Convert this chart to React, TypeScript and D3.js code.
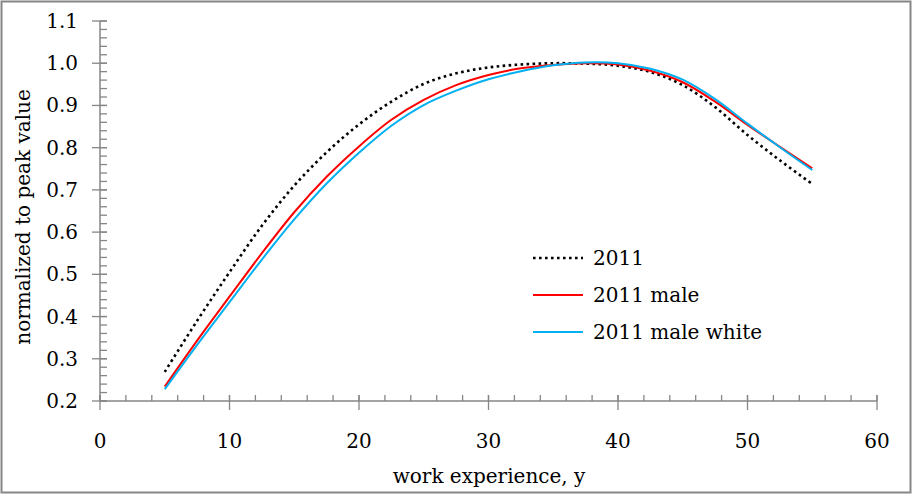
import { useRef, useEffect } from "react";
import * as d3 from "d3";

// work experience (years) at which the curves were read
const experience = [5, 7.5, 10, 12.5, 15, 17.5, 20, 22.5, 25, 27.5, 30, 32.5, 35, 37.5, 40, 42.5, 45, 47.5, 50, 52.5, 55];
const all2011 = [0.269, 0.39, 0.505, 0.615, 0.71, 0.789, 0.855, 0.909, 0.951, 0.976, 0.99, 0.997, 1.0, 0.999, 0.994, 0.979, 0.948, 0.896, 0.83, 0.77, 0.714];
const male2011 = [0.234, 0.343, 0.447, 0.55, 0.647, 0.731, 0.803, 0.866, 0.913, 0.948, 0.972, 0.988, 0.996, 1.0, 0.997, 0.982, 0.955, 0.909, 0.854, 0.802, 0.751];
const maleWhite2011 = [0.228, 0.333, 0.434, 0.535, 0.63, 0.715, 0.788, 0.852, 0.901, 0.935, 0.962, 0.981, 0.995, 1.002, 1.0, 0.987, 0.961, 0.915, 0.857, 0.801, 0.747];

const xTicks = [0, 10, 20, 30, 40, 50, 60];
const yTicks = [0.2, 0.3, 0.4, 0.5, 0.6, 0.7, 0.8, 0.9, 1.0, 1.1];

const series = [
  { label: "2011", values: all2011, color: "#000000", dash: "2.6,3.4", width: 2.6 },
  { label: "2011 male", values: male2011, color: "#ff0000", dash: null, width: 2 },
  { label: "2011 male white", values: maleWhite2011, color: "#00b0f0", dash: null, width: 2 },
];

const W = 913;
const H = 495;
const FONT = "'DejaVu Serif', serif";

export default function App() {
  const ref = useRef<SVGSVGElement>(null);

  useEffect(() => {
    if (!ref.current) return;
    const svg = d3.select(ref.current);
    svg.selectAll("*").remove();

    svg.append("rect").attr("x", 0).attr("y", 0).attr("width", W).attr("height", H).attr("fill", "#fff");
    svg.append("rect").attr("x", 1.5).attr("y", 1.5).attr("width", 909).attr("height", 491)
      .attr("fill", "none").attr("stroke", "#868686").attr("stroke-width", 2);

    const x = d3.scaleLinear().domain([0, 60]).range([100, 877]);
    const y = d3.scaleLinear().domain([0.2, 1.1]).range([401, 21]);
    const axisColor = "#868686";

    const g = svg.append("g");

    // minor ticks
    const xMinor = d3.range(0, 60.01, 2);
    g.selectAll(".xminor").data(xMinor).enter().append("line")
      .attr("x1", d => x(d)).attr("x2", d => x(d)).attr("y1", 395).attr("y2", 401)
      .attr("stroke", axisColor).attr("stroke-width", 1.3);
    const yMinor = d3.range(0.2, 1.1001, 0.02);
    g.selectAll(".yminor").data(yMinor).enter().append("line")
      .attr("x1", 100).attr("x2", 107).attr("y1", d => y(d)).attr("y2", d => y(d))
      .attr("stroke", axisColor).attr("stroke-width", 1.3);

    // major ticks
    g.selectAll(".xmajor").data(xTicks).enter().append("line")
      .attr("x1", d => x(d)).attr("x2", d => x(d)).attr("y1", 395).attr("y2", 410)
      .attr("stroke", axisColor).attr("stroke-width", 1.3);
    g.selectAll(".ymajor").data(yTicks).enter().append("line")
      .attr("x1", 92).attr("x2", 107).attr("y1", d => y(d)).attr("y2", d => y(d))
      .attr("stroke", axisColor).attr("stroke-width", 1.3);

    // axis lines
    g.append("line").attr("x1", 100).attr("x2", 877).attr("y1", 401).attr("y2", 401)
      .attr("stroke", axisColor).attr("stroke-width", 1.5);
    g.append("line").attr("x1", 100).attr("x2", 100).attr("y1", 21).attr("y2", 401)
      .attr("stroke", axisColor).attr("stroke-width", 1.5);

    // tick labels
    g.selectAll(".xlab").data(xTicks).enter().append("text")
      .attr("x", d => x(d)).attr("y", 448).attr("text-anchor", "middle")
      .attr("font-family", FONT).attr("font-size", 20).attr("fill", "#000")
      .text(d => String(d));
    g.selectAll(".ylab").data(yTicks).enter().append("text")
      .attr("x", 78).attr("y", d => y(d) + 7).attr("text-anchor", "end")
      .attr("font-family", FONT).attr("font-size", 20).attr("fill", "#000")
      .text(d => d.toFixed(1));

    // axis titles
    svg.append("text").attr("x", 489).attr("y", 483).attr("text-anchor", "middle")
      .attr("font-family", FONT).attr("font-size", 20).attr("fill", "#000")
      .text("work experience, y");
    svg.append("text").attr("transform", "translate(30,217) rotate(-90)").attr("text-anchor", "middle")
      .attr("font-family", FONT).attr("font-size", 20).attr("fill", "#000")
      .text("normalized to peak value");

    // lines
    series.forEach(s => {
      const line = d3.line<number>()
        .x((_, i) => x(experience[i]))
        .y(d => y(d))
        .curve(d3.curveCatmullRom.alpha(0.5));
      const p = g.append("path").datum(s.values).attr("d", line)
        .attr("fill", "none").attr("stroke", s.color).attr("stroke-width", s.width);
      if (s.dash) p.attr("stroke-dasharray", s.dash);
    });

    // legend
    const leg = svg.append("g").attr("transform", "translate(533,258)");
    series.forEach((s, i) => {
      const row = leg.append("g").attr("transform", `translate(0,${i * 37})`);
      const l = row.append("line").attr("x1", 0).attr("x2", 50).attr("y1", 0).attr("y2", 0)
        .attr("stroke", s.color).attr("stroke-width", s.width);
      if (s.dash) l.attr("stroke-dasharray", s.dash);
      row.append("text").attr("x", 60).attr("y", 7)
        .attr("font-family", FONT).attr("font-size", 20).attr("fill", "#000")
        .text(s.label);
    });
  }, []);

  return (
    <div style={{ position: "fixed", left: 0, top: 0 }}>
      <svg ref={ref} width={W} height={H} style={{ display: "block" }} />
    </div>
  );
}
